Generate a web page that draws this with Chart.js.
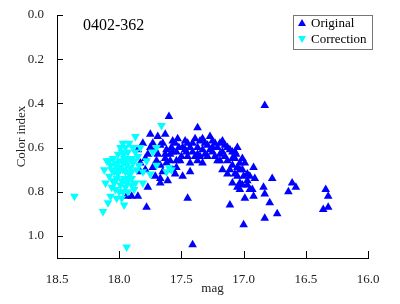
<!DOCTYPE html>
<html>
<head>
<meta charset="utf-8">
<script src="https://cdn.jsdelivr.net/npm/chart.js@4.4.0/dist/chart.umd.min.js"></script>
<style>
html, body { margin: 0; padding: 0; background: #fff; }
</style>
</head>
<body>
<canvas id="graf" width="400" height="304"></canvas>
<script>
// star label shown inside the plot
const fieldName = '0402-362';
const seriesNames = ['Original', 'Correction'];

// x ticks (mag) and y ticks (color index)
const magTicks = [18.5, 18.0, 17.5, 17.0, 16.5, 16.0];
const colorTicks = [0.0, 0.2, 0.4, 0.6, 0.8, 1.0];

// [mag, color index]
const originalPoints = [
    [17.94,0.82],[17.90,0.82],[17.85,0.82],[17.78,0.87],[17.45,0.83],[17.41,1.04],[17.60,0.46],
    [17.75,0.54],[17.69,0.55],[17.63,0.54],[17.57,0.57],[17.81,0.58],[17.73,0.58],[17.67,0.59],
    [17.55,0.58],[17.45,0.58],[17.41,0.58],[17.37,0.60],[17.85,0.61],[17.77,0.63],[17.62,0.61],
    [17.54,0.62],[17.46,0.62],[17.37,0.63],[17.83,0.67],[17.70,0.66],[17.67,0.68],[17.62,0.67],
    [17.54,0.66],[17.43,0.67],[17.37,0.66],[17.83,0.71],[17.67,0.74],[17.61,0.75],[17.67,0.76],
    [17.77,0.78],[17.37,0.51],[17.47,0.57],[17.33,0.56],[17.25,0.57],[17.19,0.58],[17.05,0.60],
    [17.65,0.58],[17.29,0.59],[17.47,0.61],[17.33,0.61],[17.25,0.62],[17.17,0.62],[17.07,0.62],
    [17.63,0.63],[17.57,0.62],[17.63,0.65],[17.50,0.64],[17.35,0.64],[17.29,0.64],[17.21,0.66],
    [17.13,0.66],[17.07,0.65],[17.59,0.66],[17.51,0.66],[17.33,0.67],[17.54,0.69],[17.11,0.70],
    [17.43,0.71],[17.17,0.70],[17.05,0.73],[17.09,0.65],[17.01,0.65],[16.99,0.67],[16.92,0.69],
    [17.05,0.69],[17.07,0.72],[17.00,0.73],[16.95,0.73],[16.91,0.74],[16.77,0.74],[17.09,0.76],
    [17.03,0.76],[16.97,0.77],[16.93,0.79],[16.84,0.78],[16.61,0.76],[16.64,0.80],[16.58,0.78],
    [16.99,0.83],[16.92,0.82],[17.19,0.66],[17.06,0.63],[17.03,0.70],[16.95,0.79],[16.83,0.81],
    [16.83,0.92],[16.79,0.85],[16.73,0.90],[17.00,0.95],[17.11,0.86],[16.34,0.79],[16.32,0.82],
    [16.32,0.87],[16.36,0.88],[16.83,0.41],[17.27,0.55],[17.21,0.60],[17.15,0.59],[17.11,0.61],
    [17.23,0.64],[17.31,0.58],[17.45,0.64],[17.49,0.60],[17.39,0.64],[17.15,0.64],[17.09,0.62],
    [17.01,0.70],[17.03,0.79],[16.97,0.72],[17.05,0.78],[17.13,0.72],[17.59,0.63],[17.71,0.61],
    [17.79,0.65],[17.73,0.69],[17.57,0.70],[17.49,0.73],[17.65,0.71],[17.35,0.57],[17.23,0.58],
    [17.17,0.57],[17.13,0.60],[17.41,0.62],[17.27,0.61],[17.19,0.63],[17.31,0.63],[17.43,0.60],
    [17.52,0.60],[17.58,0.60],[17.69,0.63],[17.75,0.60],[17.79,0.70],[17.71,0.73],[17.55,0.72],
    [17.09,0.68],[17.03,0.67],[16.97,0.75],[17.01,0.77],[17.25,0.60],[17.39,0.56],[17.53,0.56]
];
const correctionPoints = [
    [17.66,0.50],[17.87,0.55],[17.97,0.58],[18.01,0.63],[18.10,0.66],[18.05,0.65],[17.90,0.65],
    [17.85,0.64],[18.07,0.68],[17.99,0.69],[17.94,0.68],[17.89,0.67],[17.81,0.71],[18.01,0.72],
    [17.95,0.71],[17.90,0.71],[18.11,0.76],[18.05,0.75],[17.98,0.75],[17.93,0.74],[17.87,0.76],
    [17.81,0.76],[18.03,0.79],[17.95,0.78],[17.90,0.77],[18.07,0.82],[18.02,0.83],[17.98,0.83],
    [18.09,0.85],[18.13,0.89],[17.94,1.05],[18.36,0.82],[17.62,0.71],[17.58,0.70],[17.75,0.72],
    [18.00,0.66],[17.96,0.65],[17.98,0.62],[17.93,0.62],[17.95,0.60],[18.03,0.68],[17.97,0.70],
    [18.02,0.74],[17.92,0.72],[17.96,0.74],[17.99,0.77],[17.93,0.80],[18.04,0.71],[17.91,0.69],
    [18.06,0.78],[17.97,0.80],[17.87,0.62],[17.84,0.68],[17.78,0.66],[17.73,0.62],[17.70,0.60],
    [17.83,0.60],[18.12,0.70],[18.08,0.73],[17.96,0.86],[17.88,0.79],[17.92,0.58],[17.70,0.68],
    [17.60,0.69],[17.99,0.60],[18.02,0.67],[17.97,0.67],[18.00,0.70],[17.94,0.66],[17.92,0.65],
    [17.90,0.74],[17.94,0.76],[18.04,0.76],[18.00,0.80],[17.86,0.70],[17.88,0.66],[18.06,0.70],
    [17.96,0.63],[17.89,0.60],[18.08,0.66]
];

const serif = '"Liberation Serif", "Times New Roman", serif';

function toXY(list) {
    return list.map(p => ({x: p[0], y: p[1]}));
}

// inward tick marks, field name and the boxed legend
const extras = {
    id: 'extras',
    afterDraw(chart) {
        const ctx = chart.ctx;
        const xs = chart.scales.x, ys = chart.scales.y;
        const area = chart.chartArea;
        ctx.save();
        ctx.strokeStyle = '#000';
        ctx.lineWidth = 1;
        ctx.beginPath();
        magTicks.forEach(v => {
            const px = Math.round(xs.getPixelForValue(v)) + 0.5;
            ctx.moveTo(px, area.bottom);
            ctx.lineTo(px, area.bottom - 7);
        });
        colorTicks.forEach(v => {
            const py = Math.round(ys.getPixelForValue(v)) + 0.5;
            ctx.moveTo(area.left, py);
            ctx.lineTo(area.left + 6, py);
        });
        ctx.stroke();

        ctx.fillStyle = '#000';
        ctx.font = '16px ' + serif;
        ctx.textBaseline = 'middle';
        ctx.textAlign = 'left';
        ctx.fillText(fieldName, area.left + 26, area.top + 11);

        // legend box
        const bx = 293.5, by = 15.5, bw = 79, bh = 34;
        ctx.fillStyle = '#fff';
        ctx.fillRect(bx, by, bw, bh);
        ctx.strokeStyle = '#777';
        ctx.strokeRect(bx, by, bw, bh);
        const colors = ['#0000ff', '#00ffff'];
        colors.forEach((c, i) => {
            const cx = 302, cy = 23 + i * 16;
            ctx.fillStyle = c;
            ctx.beginPath();
            if (i === 0) {
                ctx.moveTo(cx, cy - 4); ctx.lineTo(cx + 4, cy + 3); ctx.lineTo(cx - 4, cy + 3);
            } else {
                ctx.moveTo(cx, cy + 4); ctx.lineTo(cx + 4, cy - 3); ctx.lineTo(cx - 4, cy - 3);
            }
            ctx.closePath();
            ctx.fill();
            ctx.fillStyle = '#000';
            ctx.font = '13px ' + serif;
            ctx.fillText(seriesNames[i], 311, cy + 1);
        });
        ctx.restore();
    }
};

const ctx = document.getElementById('graf').getContext('2d');

const grafico = new Chart(ctx, {
    type: 'scatter',
    data: {
        datasets: [{
            label: seriesNames[0],
            data: toXY(originalPoints),
            pointStyle: 'triangle',
            pointRadius: 5,
            pointBorderWidth: 0,
            backgroundColor: '#0000ff',
            borderColor: '#0000ff',
            order: 2
        },
        {
            label: seriesNames[1],
            data: toXY(correctionPoints),
            pointStyle: 'triangle',
            rotation: 180,
            pointRadius: 5,
            pointBorderWidth: 0,
            backgroundColor: '#00ffff',
            borderColor: '#00ffff',
            order: 1
        }]
    },
    options: {
        responsive: false,
        animation: false,
        events: [],
        layout: {
            padding: {left: 0, right: 32, top: 15, bottom: 0}
        },
        plugins: {
            legend: {display: false},
            title: {display: false},
            tooltip: {enabled: false}
        },
        scales: {
            x: {
                type: 'linear',
                reverse: true,
                min: 16.0,
                max: 18.5,
                afterFit: s => { s.height = 46; },
                afterBuildTicks: s => { s.ticks = magTicks.map(v => ({value: v})); },
                grid: {display: false},
                border: {display: true, color: '#000', width: 1},
                ticks: {
                    padding: 6,
                    color: '#222',
                    font: {family: serif, size: 13},
                    callback: v => Number(v).toFixed(1)
                },
                title: {
                    display: true,
                    text: 'mag',
                    color: '#222',
                    font: {family: serif, size: 13},
                    padding: {top: 0, bottom: 8}
                }
            },
            y: {
                type: 'linear',
                reverse: true,
                min: 0.0,
                max: 1.1,
                afterFit: s => { s.width = 57; },
                afterBuildTicks: s => { s.ticks = colorTicks.map(v => ({value: v})); },
                grid: {display: false},
                border: {display: true, color: '#000', width: 1},
                ticks: {
                    padding: 5,
                    color: '#222',
                    font: {family: serif, size: 13},
                    callback: v => Number(v).toFixed(1)
                },
                title: {
                    display: true,
                    text: 'Color index',
                    color: '#222',
                    font: {family: serif, size: 13},
                    padding: {top: 14, bottom: 0}
                }
            }
        }
    },
    plugins: [extras]
});
</script>
</body>
</html>
